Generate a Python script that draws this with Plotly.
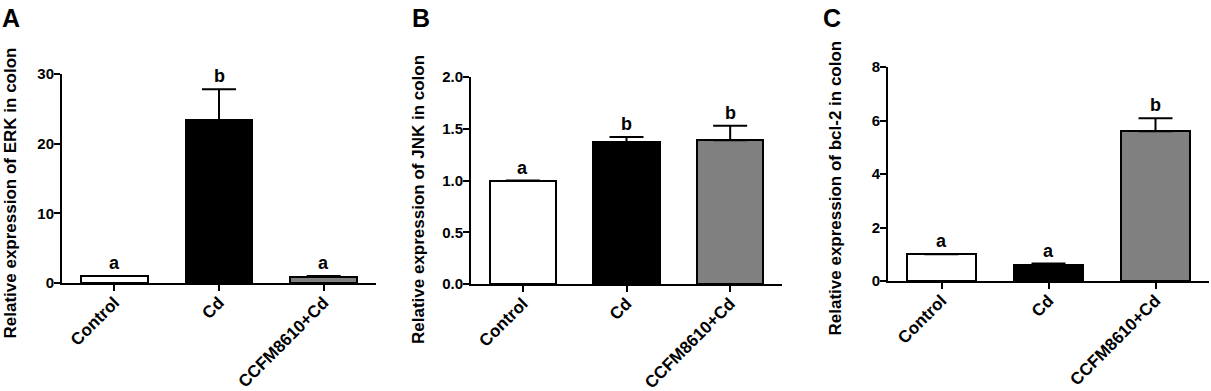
import plotly.graph_objects as go

W, H = 1211, 391

categories = ["Control", "Cd", "CCFM8610+Cd"]
bar_colors = ["#ffffff", "#000000", "#808080"]

erk_mean = [1.0, 23.4, 0.85]
erk_err = [0.0, 4.4, 0.15]
erk_letters = ["a", "b", "a"]

jnk_mean = [1.0, 1.37, 1.39]
jnk_err = [0.0, 0.05, 0.14]
jnk_letters = ["a", "b", "b"]

bcl_mean = [1.0, 0.61, 5.6]
bcl_err = [0.0, 0.04, 0.48]
bcl_letters = ["a", "a", "b"]

panels = [
    dict(mean=erk_mean, err=erk_err, letters=erk_letters, yrange=[0, 30], dtick=10,
         tickfmt="d", title="Relative expression of ERK in colon", label="A",
         px_x=(62, 376), px_y=(74, 283), title_x=10, title_y=193.5, label_x=11),
    dict(mean=jnk_mean, err=jnk_err, letters=jnk_letters, yrange=[0, 2], dtick=0.5,
         tickfmt=".1f", title="Relative expression of JNK in colon", label="B",
         px_x=(471, 782), px_y=(77, 284), title_x=418, title_y=200, label_x=421),
    dict(mean=bcl_mean, err=bcl_err, letters=bcl_letters, yrange=[0, 8], dtick=2,
         tickfmt="d", title="Relative expression of bcl-2 in colon", label="C",
         px_x=(888, 1209), px_y=(67, 281), title_x=835, title_y=188.5, label_x=832),
]

FONT = "Liberation Sans, Arial, sans-serif"

fig = go.Figure()
annotations = []
layout = {}

for i, p in enumerate(panels):
    n = "" if i == 0 else str(i + 1)
    xa = "x" + n
    ya = "y" + n
    fig.add_trace(go.Bar(
        x=categories, y=p["mean"], xaxis=xa, yaxis=ya,
        marker=dict(color=bar_colors, line=dict(color="black", width=2)),
        width=0.64,
        error_y=dict(type="data", symmetric=False, array=p["err"],
                     arrayminus=[0] * 3, color="black", thickness=2, width=17),
        showlegend=False, hoverinfo="skip",
    ))
    x0, x1 = p["px_x"]
    y0, y1 = p["px_y"]
    layout["xaxis" + n] = dict(
        domain=[x0 / W, x1 / W], anchor=ya, range=[-0.5, 2.5],
        showline=True, linecolor="black", linewidth=2,
        ticks="outside", ticklen=6, tickwidth=2, tickcolor="black",
        tickangle=-45, showgrid=False, zeroline=False, automargin=False,
        ticklabelstandoff=-5,
        tickfont=dict(family=FONT, size=17, color="black", weight="bold"),
        fixedrange=True,
    )
    layout["yaxis" + n] = dict(
        domain=[1 - y1 / H, 1 - y0 / H], anchor=xa, range=p["yrange"],
        dtick=p["dtick"], tick0=0, tickformat=p["tickfmt"],
        showline=True, linecolor="black", linewidth=2,
        ticks="outside", ticklen=6, tickwidth=2, tickcolor="black",
        showgrid=False, zeroline=False, automargin=False,
        ticklabelstandoff=-3,
        tickfont=dict(family=FONT, size=15, color="black", weight="bold"),
        fixedrange=True,
    )
    for c, m, e, L in zip(categories, p["mean"], p["err"], p["letters"]):
        annotations.append(dict(
            x=c, y=m + e, xref=xa, yref=ya, text=L, showarrow=False,
            yanchor="bottom", yshift=1,
            font=dict(family=FONT, size=18, color="black", weight="bold"),
        ))
    annotations.append(dict(
        x=p["title_x"] / W, y=1 - p["title_y"] / H, xref="paper", yref="paper",
        text=p["title"], textangle=-90, showarrow=False,
        xanchor="center", yanchor="middle",
        font=dict(family=FONT, size=17, color="black", weight="bold"),
    ))
    annotations.append(dict(
        x=p["label_x"] / W, y=1 - 18 / H, xref="paper", yref="paper",
        text=p["label"], showarrow=False, xanchor="center", yanchor="middle",
        font=dict(family=FONT, size=25, color="black", weight="bold"),
    ))

fig.update_layout(
    template="none",
    width=W, height=H, margin=dict(l=0, r=0, t=0, b=0, autoexpand=False),
    paper_bgcolor="white", plot_bgcolor="white",
    annotations=annotations, bargap=0, **layout,
)

fig.write_html("out.html", config={"displayModeBar": False},
               post_script="document.body.style.margin='0px';")
